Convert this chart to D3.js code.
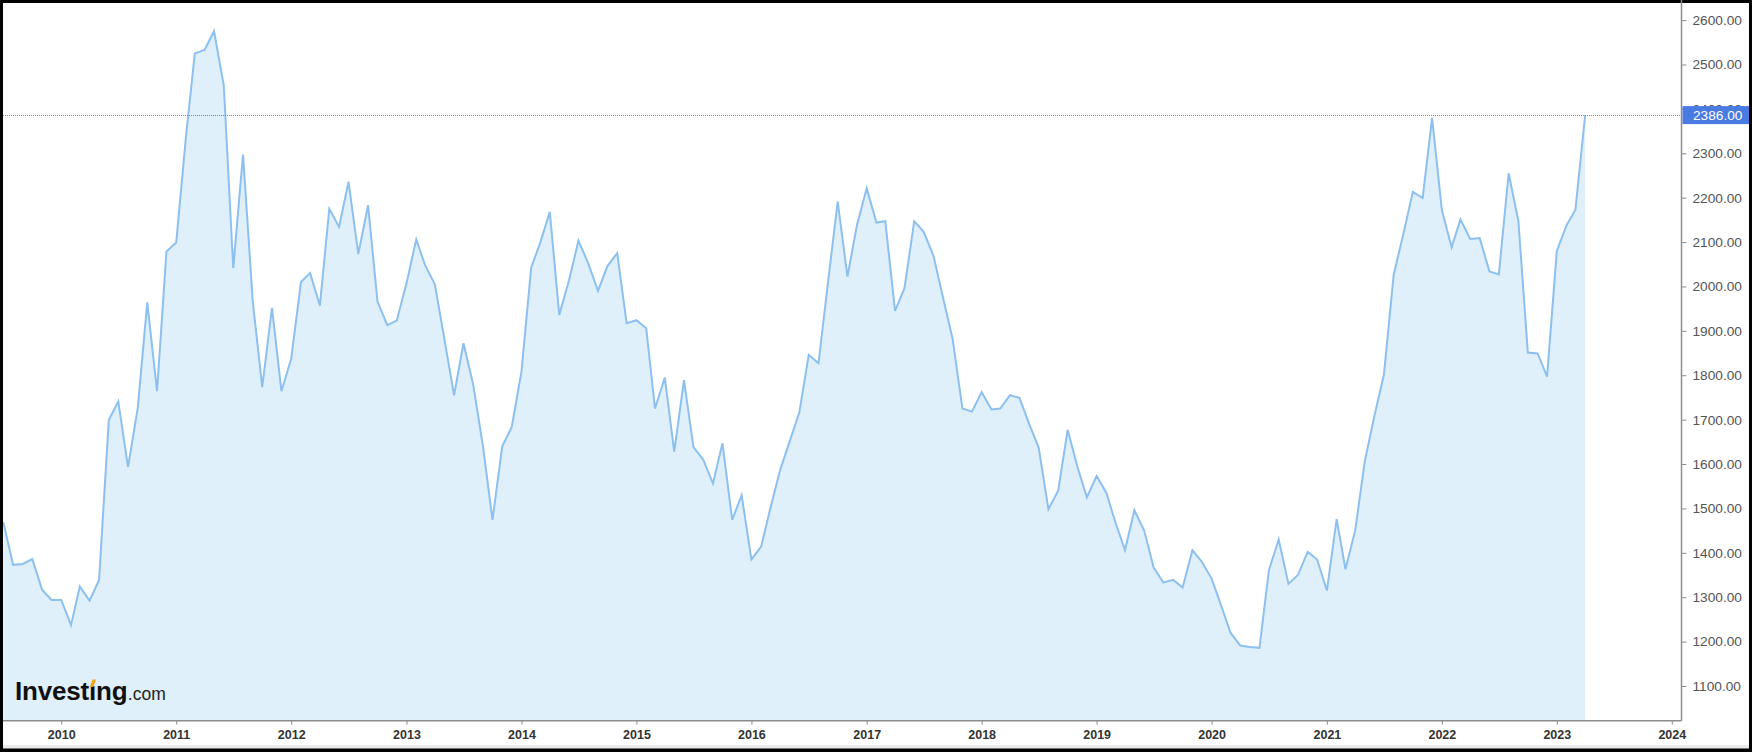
<!DOCTYPE html>
<html>
<head>
<meta charset="utf-8">
<script src="https://cdn.jsdelivr.net/npm/d3@7"></script>
<style>
  html, body { margin: 0; padding: 0; background: #000; }
  svg { display: block; }
</style>
</head>
<body>
<svg id="chart" width="1752" height="752"></svg>
<script>
// ---- data (monthly, Jul 2009 .. Apr 2023) ----
const startMonth = new Date(2009, 6, 1);
const endMonth = new Date(2023, 3, 1);
const values = [
  1469, 1373, 1375, 1386, 1317, 1294,
  1294, 1237, 1324, 1292, 1339, 1699, 1741, 1593, 1727, 1964, 1764, 2079,
  2099, 2338, 2525, 2533, 2575, 2453, 2041, 2297, 1966, 1773, 1952, 1764,
  1837, 2010, 2030, 1957, 2175, 2134, 2236, 2073, 2183, 1966, 1913, 1923,
  2007, 2106, 2048, 2005, 1883, 1755, 1872, 1778, 1639, 1474, 1640, 1683,
  1808, 2043, 2097, 2168, 1936, 2014, 2103, 2052, 1990, 2046, 2075, 1917,
  1924, 1906, 1725, 1795, 1628, 1789, 1638, 1610, 1556, 1647, 1474, 1530,
  1385, 1414, 1500, 1586, 1650, 1716, 1846, 1827, 2014, 2191, 2022, 2138,
  2221, 2144, 2147, 1945, 1996, 2147, 2123, 2069, 1973, 1881, 1725, 1718,
  1762, 1723, 1725, 1755, 1749, 1690, 1637, 1498, 1540, 1677, 1594, 1525,
  1573, 1535, 1470, 1406, 1496, 1450, 1367, 1333, 1339, 1322, 1406, 1380,
  1342, 1280, 1220, 1191, 1188, 1186, 1361, 1430, 1330, 1350, 1402, 1385,
  1315, 1476, 1363, 1451, 1605, 1709, 1801, 2026, 2119, 2213, 2199, 2380,
  2172, 2088, 2151, 2107, 2109, 2034, 2027, 2255, 2147, 1851, 1849, 1797,
  2080, 2138, 2173, 2386
];
const yTickValues = [1100, 1200, 1300, 1400, 1500, 1600, 1700, 1800, 1900, 2000, 2100, 2200, 2300, 2400, 2500, 2600];
const xTickYears = [2010, 2011, 2012, 2013, 2014, 2015, 2016, 2017, 2018, 2019, 2020, 2021, 2022, 2023, 2024];
const lastValue = 2386;

// ---- layout ----
const W = 1752, H = 752;
const plotLeft = 3, plotRight = 1681.5, plotTop = 3, plotBottom = 720.7;

const months = d3.timeMonth.range(startMonth, d3.timeMonth.offset(endMonth, 1));
const data = months.map((d, i) => ({ date: d, value: values[i] }));

const svg = d3.select("#chart");

// frame
svg.append("rect").attr("x", 0).attr("y", 0).attr("width", W).attr("height", H).attr("fill", "#000");
svg.append("rect").attr("x", 3).attr("y", 3).attr("width", 1746).attr("height", 742).attr("fill", "#fff");
svg.append("rect").attr("x", 3).attr("y", 745).attr("width", 1746).attr("height", 3.5).attr("fill", "#e9e9e9");

const x = d3.scaleTime()
  .domain([new Date(2009, 6, 1), new Date(2024, 0, 1)])
  .range([3.3, 1671.8]);
const y = d3.scaleLinear()
  .domain([1100, 2600])
  .range([686.0, 20.1]);

svg.append("defs").append("clipPath").attr("id", "plotclip")
  .append("rect").attr("x", plotLeft).attr("y", plotTop)
  .attr("width", plotRight - plotLeft).attr("height", plotBottom - plotTop);

const plot = svg.append("g").attr("clip-path", "url(#plotclip)");

const area = d3.area()
  .x(d => x(d.date))
  .y0(plotBottom)
  .y1(d => y(d.value));
const line = d3.line()
  .x(d => x(d.date))
  .y(d => y(d.value));

plot.append("path").datum(data).attr("d", area).attr("fill", "#e0f0fa");
plot.append("path").datum(data).attr("d", line)
  .attr("fill", "none").attr("stroke", "#8cc0f0").attr("stroke-width", 2)
  .attr("stroke-linejoin", "miter");

// dotted last-price line
plot.append("line")
  .attr("x1", plotLeft).attr("x2", plotRight)
  .attr("y1", Math.round(y(lastValue)) + 0.5).attr("y2", Math.round(y(lastValue)) + 0.5)
  .attr("stroke", "#4f8af5").attr("stroke-width", 1)
  .attr("stroke-dasharray", "1,1");

// logo
const logo = svg.append("text")
  .attr("x", 15).attr("y", 700)
  .attr("font-family", "'Liberation Sans', Arial, sans-serif");
logo.append("tspan").text("Invest").attr("font-size", 26).attr("font-weight", 700).attr("fill", "#111").attr("letter-spacing", -0.2);
logo.append("tspan").text("\u0131").attr("font-size", 26).attr("font-weight", 700).attr("fill", "#111").attr("letter-spacing", -0.2);
logo.append("tspan").text("ng").attr("font-size", 26).attr("font-weight", 700).attr("fill", "#111").attr("letter-spacing", -0.2);
logo.append("tspan").text(".com").attr("font-size", 17.5).attr("font-weight", 400).attr("fill", "#222").attr("dx", 0.5);
// orange tittle on the dotless i
{
  const node = logo.node();
  const ext = node.getExtentOfChar(6);
  const cx = ext.x + ext.width / 2 - 0.3;
  svg.append("path")
    .attr("d", `M${cx - 2.3},687 L${cx + 0.4},679.5 L${cx + 3.8},679.5 L${cx + 1.2},687 Z`)
    .attr("fill", "#f5a11c");
}

// right axis
svg.append("line")
  .attr("x1", plotRight).attr("x2", plotRight)
  .attr("y1", 0).attr("y2", plotBottom)
  .attr("stroke", "#8c8c8c").attr("stroke-width", 1.5);

const yAxis = d3.axisRight(y)
  .tickValues(yTickValues)
  .tickFormat(d => d.toFixed(2))
  .tickSize(5)
  .tickPadding(6);
const gy = svg.append("g").attr("transform", `translate(${plotRight},0)`).call(yAxis);
gy.select(".domain").remove();
gy.selectAll(".tick line").attr("stroke", "#8c8c8c");
gy.selectAll(".tick text")
  .attr("font-family", "'Liberation Sans', Arial, sans-serif")
  .attr("font-size", 13.7).attr("fill", "#555");

// bottom axis
svg.append("line")
  .attr("x1", plotLeft).attr("x2", plotRight)
  .attr("y1", plotBottom).attr("y2", plotBottom)
  .attr("stroke", "#8c8c8c").attr("stroke-width", 1.5);
const xAxis = d3.axisBottom(x)
  .tickValues(xTickYears.map(yr => new Date(yr, 0, 1)))
  .tickFormat(d3.timeFormat("%Y"))
  .tickSize(4)
  .tickPadding(5);
const gx = svg.append("g").attr("transform", `translate(0,${plotBottom})`).call(xAxis);
gx.select(".domain").remove();
gx.selectAll(".tick line").attr("stroke", "#8c8c8c");
gx.selectAll(".tick text")
  .attr("font-family", "'Liberation Sans', Arial, sans-serif")
  .attr("font-size", 12.5).attr("font-weight", 700).attr("fill", "#333");

// last price label (covers the 2400 tick label, as in the reference)
const ly = y(lastValue);
svg.append("rect")
  .attr("x", plotRight + 1).attr("y", ly - 9)
  .attr("width", 1749 - plotRight - 1).attr("height", 18)
  .attr("fill", "#4a7be3");
svg.append("text")
  .attr("x", plotRight + 11.5).attr("y", ly)
  .attr("dy", "0.35em")
  .attr("font-family", "'Liberation Sans', Arial, sans-serif")
  .attr("font-size", 13.7).attr("fill", "#fff")
  .text(lastValue.toFixed(2));
</script>
</body>
</html>
